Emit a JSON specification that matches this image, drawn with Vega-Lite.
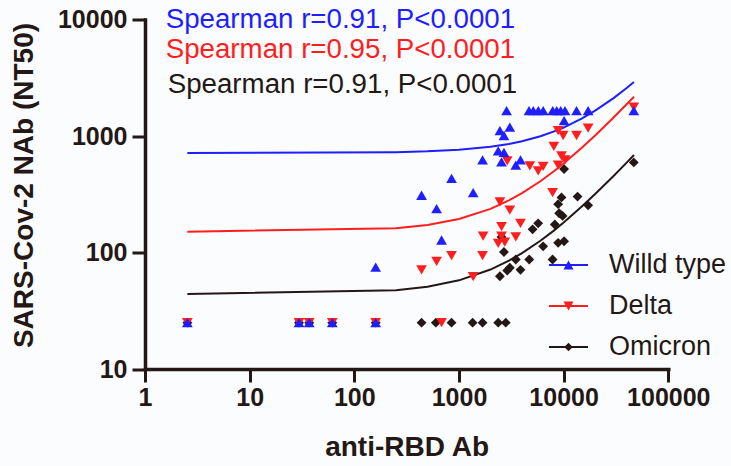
{
  "$schema": "https://vega.github.io/schema/vega-lite/v6.json",
  "width": 523.3,
  "height": 349.5,
  "autosize": {"type": "none"},
  "padding": {"left": 145, "top": 19.5, "right": 62.7, "bottom": 97},
  "background": "#fbfcfe",
  "config": {
    "view": {"stroke": null},
    "font": "Liberation Sans",
    "axis": {
      "labelFont": "Liberation Sans",
      "labelFontWeight": "bold",
      "labelFontSize": 25,
      "labelColor": "#231815",
      "domainColor": "#231815",
      "domainWidth": 3.5,
      "domainCap": "square",
      "tickColor": "#231815",
      "tickWidth": 3,
      "tickSize": 13,
      "grid": false,
      "labelOverlap": false,
      "labelFlush": false,
      "labelBound": false,
      "titleFont": "Liberation Sans",
      "titleFontWeight": "bold",
      "titleFontSize": 28,
      "titleColor": "#231815"
    }
  },
  "datasets": {
    "points": [
      {"group": "Omicron", "rbd": 2.54, "nab": 25},
      {"group": "Omicron", "rbd": 29.6, "nab": 25},
      {"group": "Omicron", "rbd": 37.1, "nab": 25},
      {"group": "Omicron", "rbd": 61.6, "nab": 25},
      {"group": "Omicron", "rbd": 160, "nab": 25},
      {"group": "Omicron", "rbd": 439, "nab": 25},
      {"group": "Omicron", "rbd": 601, "nab": 25},
      {"group": "Omicron", "rbd": 849, "nab": 25},
      {"group": "Omicron", "rbd": 1350, "nab": 25},
      {"group": "Omicron", "rbd": 1680, "nab": 25},
      {"group": "Omicron", "rbd": 2370, "nab": 25},
      {"group": "Omicron", "rbd": 2800, "nab": 25},
      {"group": "Omicron", "rbd": 2460, "nab": 62.5},
      {"group": "Omicron", "rbd": 2890, "nab": 70},
      {"group": "Omicron", "rbd": 3060, "nab": 74},
      {"group": "Omicron", "rbd": 3870, "nab": 71},
      {"group": "Omicron", "rbd": 2690, "nab": 101},
      {"group": "Omicron", "rbd": 3490, "nab": 87},
      {"group": "Omicron", "rbd": 4690, "nab": 87},
      {"group": "Omicron", "rbd": 7840, "nab": 87},
      {"group": "Omicron", "rbd": 6370, "nab": 113},
      {"group": "Omicron", "rbd": 8860, "nab": 121},
      {"group": "Omicron", "rbd": 10100, "nab": 125},
      {"group": "Omicron", "rbd": 2550, "nab": 136},
      {"group": "Omicron", "rbd": 5050, "nab": 158},
      {"group": "Omicron", "rbd": 5710, "nab": 178},
      {"group": "Omicron", "rbd": 8240, "nab": 174},
      {"group": "Omicron", "rbd": 9060, "nab": 217},
      {"group": "Omicron", "rbd": 9770, "nab": 206},
      {"group": "Omicron", "rbd": 8860, "nab": 260},
      {"group": "Omicron", "rbd": 9540, "nab": 297},
      {"group": "Omicron", "rbd": 13580, "nab": 302},
      {"group": "Omicron", "rbd": 17140, "nab": 254},
      {"group": "Omicron", "rbd": 10100, "nab": 520},
      {"group": "Omicron", "rbd": 46800, "nab": 593},
      {"group": "Delta", "rbd": 2.54, "nab": 25},
      {"group": "Delta", "rbd": 29.6, "nab": 25},
      {"group": "Delta", "rbd": 37.1, "nab": 25},
      {"group": "Delta", "rbd": 61.6, "nab": 25},
      {"group": "Delta", "rbd": 160, "nab": 25},
      {"group": "Delta", "rbd": 682, "nab": 25},
      {"group": "Delta", "rbd": 439, "nab": 71},
      {"group": "Delta", "rbd": 611, "nab": 84},
      {"group": "Delta", "rbd": 849, "nab": 94},
      {"group": "Delta", "rbd": 1367, "nab": 62},
      {"group": "Delta", "rbd": 1680, "nab": 94},
      {"group": "Delta", "rbd": 1700, "nab": 138},
      {"group": "Delta", "rbd": 2370, "nab": 120},
      {"group": "Delta", "rbd": 2740, "nab": 123},
      {"group": "Delta", "rbd": 2550, "nab": 138},
      {"group": "Delta", "rbd": 2550, "nab": 167},
      {"group": "Delta", "rbd": 3490, "nab": 136},
      {"group": "Delta", "rbd": 3870, "nab": 178},
      {"group": "Delta", "rbd": 3060, "nab": 231},
      {"group": "Delta", "rbd": 2460, "nab": 272},
      {"group": "Delta", "rbd": 7840, "nab": 327},
      {"group": "Delta", "rbd": 2890, "nab": 612},
      {"group": "Delta", "rbd": 4750, "nab": 555},
      {"group": "Delta", "rbd": 5710, "nab": 502},
      {"group": "Delta", "rbd": 6370, "nab": 548},
      {"group": "Delta", "rbd": 8860, "nab": 562},
      {"group": "Delta", "rbd": 10300, "nab": 625},
      {"group": "Delta", "rbd": 9540, "nab": 676},
      {"group": "Delta", "rbd": 8060, "nab": 815},
      {"group": "Delta", "rbd": 8860, "nab": 1110},
      {"group": "Delta", "rbd": 9890, "nab": 1010},
      {"group": "Delta", "rbd": 13280, "nab": 1010},
      {"group": "Delta", "rbd": 17140, "nab": 1170},
      {"group": "Delta", "rbd": 46800, "nab": 1770},
      {"group": "Willd type", "rbd": 2.54, "nab": 25},
      {"group": "Willd type", "rbd": 29.6, "nab": 25},
      {"group": "Willd type", "rbd": 37.1, "nab": 25},
      {"group": "Willd type", "rbd": 61.6, "nab": 25},
      {"group": "Willd type", "rbd": 160, "nab": 25},
      {"group": "Willd type", "rbd": 160, "nab": 75},
      {"group": "Willd type", "rbd": 439, "nab": 310},
      {"group": "Willd type", "rbd": 611, "nab": 238},
      {"group": "Willd type", "rbd": 682, "nab": 128},
      {"group": "Willd type", "rbd": 849, "nab": 432},
      {"group": "Willd type", "rbd": 1367, "nab": 327},
      {"group": "Willd type", "rbd": 1680, "nab": 625},
      {"group": "Willd type", "rbd": 2370, "nab": 746},
      {"group": "Willd type", "rbd": 2690, "nab": 724},
      {"group": "Willd type", "rbd": 2550, "nab": 600},
      {"group": "Willd type", "rbd": 3490, "nab": 562},
      {"group": "Willd type", "rbd": 3870, "nab": 625},
      {"group": "Willd type", "rbd": 2460, "nab": 1110},
      {"group": "Willd type", "rbd": 3060, "nab": 1190},
      {"group": "Willd type", "rbd": 2690, "nab": 1010},
      {"group": "Willd type", "rbd": 10100, "nab": 1355},
      {"group": "Willd type", "rbd": 2850, "nab": 1650},
      {"group": "Willd type", "rbd": 4670, "nab": 1650},
      {"group": "Willd type", "rbd": 5130, "nab": 1650},
      {"group": "Willd type", "rbd": 5730, "nab": 1650},
      {"group": "Willd type", "rbd": 6380, "nab": 1650},
      {"group": "Willd type", "rbd": 7860, "nab": 1650},
      {"group": "Willd type", "rbd": 8590, "nab": 1650},
      {"group": "Willd type", "rbd": 9370, "nab": 1650},
      {"group": "Willd type", "rbd": 10300, "nab": 1650},
      {"group": "Willd type", "rbd": 13280, "nab": 1650},
      {"group": "Willd type", "rbd": 17140, "nab": 1650},
      {"group": "Willd type", "rbd": 46800, "nab": 1650}
    ],
    "curves": [
      {"group": "Willd type", "rbd": 2.54, "fit": 715},
      {"group": "Willd type", "rbd": 250, "fit": 727},
      {"group": "Willd type", "rbd": 500, "fit": 738},
      {"group": "Willd type", "rbd": 1000, "fit": 762},
      {"group": "Willd type", "rbd": 2000, "fit": 808},
      {"group": "Willd type", "rbd": 3000, "fit": 855},
      {"group": "Willd type", "rbd": 4000, "fit": 902},
      {"group": "Willd type", "rbd": 6000, "fit": 995},
      {"group": "Willd type", "rbd": 8000, "fit": 1089},
      {"group": "Willd type", "rbd": 10000, "fit": 1182},
      {"group": "Willd type", "rbd": 15000, "fit": 1416},
      {"group": "Willd type", "rbd": 20000, "fit": 1649},
      {"group": "Willd type", "rbd": 30000, "fit": 2116},
      {"group": "Willd type", "rbd": 40000, "fit": 2583},
      {"group": "Willd type", "rbd": 47000, "fit": 2910},
      {"group": "Delta", "rbd": 2.54, "fit": 151},
      {"group": "Delta", "rbd": 250, "fit": 161.8},
      {"group": "Delta", "rbd": 500, "fit": 172.5},
      {"group": "Delta", "rbd": 1000, "fit": 194},
      {"group": "Delta", "rbd": 2000, "fit": 237},
      {"group": "Delta", "rbd": 3000, "fit": 280},
      {"group": "Delta", "rbd": 4000, "fit": 323},
      {"group": "Delta", "rbd": 6000, "fit": 409},
      {"group": "Delta", "rbd": 8000, "fit": 495},
      {"group": "Delta", "rbd": 10000, "fit": 581},
      {"group": "Delta", "rbd": 15000, "fit": 796},
      {"group": "Delta", "rbd": 20000, "fit": 1011},
      {"group": "Delta", "rbd": 30000, "fit": 1441},
      {"group": "Delta", "rbd": 40000, "fit": 1871},
      {"group": "Delta", "rbd": 47000, "fit": 2172},
      {"group": "Omicron", "rbd": 2.54, "fit": 44},
      {"group": "Omicron", "rbd": 250, "fit": 47.4},
      {"group": "Omicron", "rbd": 500, "fit": 50.8},
      {"group": "Omicron", "rbd": 1000, "fit": 57.7},
      {"group": "Omicron", "rbd": 2000, "fit": 71.4},
      {"group": "Omicron", "rbd": 3000, "fit": 85},
      {"group": "Omicron", "rbd": 4000, "fit": 98.7},
      {"group": "Omicron", "rbd": 6000, "fit": 126},
      {"group": "Omicron", "rbd": 8000, "fit": 153.4},
      {"group": "Omicron", "rbd": 10000, "fit": 180.8},
      {"group": "Omicron", "rbd": 15000, "fit": 249},
      {"group": "Omicron", "rbd": 20000, "fit": 318},
      {"group": "Omicron", "rbd": 30000, "fit": 454},
      {"group": "Omicron", "rbd": 40000, "fit": 591},
      {"group": "Omicron", "rbd": 47000, "fit": 687}
    ]
  },
  "layer": [
    {
      "data": {"name": "curves"},
      "mark": {"type": "point", "filled": true, "opacity": 0, "size": 100},
      "encoding": {
        "x": {
          "field": "rbd", "type": "quantitative",
          "scale": {"type": "log", "domain": [1, 100000], "nice": false},
          "axis": {
            "values": [1, 10, 100, 1000, 10000, 100000],
            "format": "d",
            "labelPadding": 3,
            "title": "anti-RBD Ab",
            "titleX": 261.6, "titleY": 86,
            "titleBaseline": "alphabetic", "titleAlign": "center"
          }
        },
        "y": {
          "field": "fit", "type": "quantitative",
          "scale": {"type": "log", "domain": [10, 10000], "nice": false},
          "axis": {
            "values": [10, 100, 1000, 10000],
            "format": "d",
            "labelPadding": 5,
            "title": "SARS-Cov-2 NAb (NT50)",
            "titleAngle": 270,
            "titleX": -113, "titleY": 165.5,
            "titleBaseline": "alphabetic", "titleAlign": "center"
          }
        },
        "color": {
          "field": "group", "type": "nominal",
          "scale": {"domain": ["Willd type", "Delta", "Omicron"], "range": ["#1e1eff", "#ff1e1e", "#231815"]},
          "legend": {
            "title": null,
            "orient": "none",
            "legendX": 410,
            "legendY": 232,
            "padding": 0,
            "labelFont": "Liberation Sans",
            "labelFontSize": 27,
            "labelColor": "#231815",
            "labelOffset": 27,
            "symbolSize": 100,
            "symbolStrokeWidth": 0,
            "symbolOpacity": 1,
            "rowPadding": 13
          }
        },
        "shape": {
          "field": "group", "type": "nominal",
          "scale": {
            "domain": ["Willd type", "Delta", "Omicron"],
            "range": [
              "M-3.9,-0.2H3.9V0.2H-3.9ZM-1,0.88L0,-0.88L1,0.88Z",
              "M-3.9,-0.2H3.9V0.2H-3.9ZM-1,-0.88L1,-0.88L0,0.88Z",
              "M-3.9,-0.2H3.9V0.2H-3.9ZM0,-0.85L0.85,0L0,0.85L-0.85,0Z"
            ]
          },
          "legend": {
            "title": null,
            "orient": "none",
            "legendX": 410,
            "legendY": 232,
            "padding": 0,
            "labelFont": "Liberation Sans",
            "labelFontSize": 27,
            "labelColor": "#231815",
            "labelOffset": 27,
            "symbolSize": 100,
            "symbolStrokeWidth": 0,
            "symbolOpacity": 1,
            "rowPadding": 13
          }
        }
      }
    },
    {
      "data": {"name": "curves"},
      "mark": {"type": "line", "strokeWidth": 2},
      "encoding": {
        "x": {"field": "rbd", "type": "quantitative"},
        "y": {"field": "fit", "type": "quantitative"},
        "color": {"field": "group", "type": "nominal", "legend": null},
        "detail": {"field": "group"}
      }
    },
    {
      "data": {"name": "points"},
      "transform": [{"filter": "datum.group === 'Omicron'"}],
      "mark": {"type": "point", "filled": true, "opacity": 1, "size": 115, "shape": "M0,-0.92L0.92,0L0,0.92L-0.92,0Z", "color": "#231815"},
      "encoding": {
        "x": {"field": "rbd", "type": "quantitative"},
        "y": {"field": "nab", "type": "quantitative"}
      }
    },
    {
      "data": {"name": "points"},
      "transform": [{"filter": "datum.group === 'Delta'"}],
      "mark": {"type": "point", "filled": true, "opacity": 1, "size": 115, "shape": "triangle-down", "color": "#ff1e1e"},
      "encoding": {
        "x": {"field": "rbd", "type": "quantitative"},
        "y": {"field": "nab", "type": "quantitative"}
      }
    },
    {
      "data": {"name": "points"},
      "transform": [{"filter": "datum.group === 'Willd type'"}],
      "mark": {"type": "point", "filled": true, "opacity": 1, "size": 115, "shape": "triangle-up", "color": "#1e1eff"},
      "encoding": {
        "x": {"field": "rbd", "type": "quantitative"},
        "y": {"field": "nab", "type": "quantitative"}
      }
    },
    {
      "data": {"values": [{"label": "Spearman r=0.91, P<0.0001"}]},
      "mark": {"type": "text", "font": "Liberation Sans", "fontSize": 27.7, "align": "left", "baseline": "alphabetic", "color": "#1e1eff"},
      "encoding": {
        "x": {"datum": 1.577, "type": "quantitative"},
        "y": {"datum": 8400, "type": "quantitative"},
        "text": {"field": "label"}
      }
    },
    {
      "data": {"values": [{"label": "Spearman r=0.95, P<0.0001"}]},
      "mark": {"type": "text", "font": "Liberation Sans", "fontSize": 27.7, "align": "left", "baseline": "alphabetic", "color": "#ff1e1e"},
      "encoding": {
        "x": {"datum": 1.577, "type": "quantitative"},
        "y": {"datum": 4645, "type": "quantitative"},
        "text": {"field": "label"}
      }
    },
    {
      "data": {"values": [{"label": "Spearman r=0.91, P<0.0001"}]},
      "mark": {"type": "text", "font": "Liberation Sans", "fontSize": 27.7, "align": "left", "baseline": "alphabetic", "color": "#231815"},
      "encoding": {
        "x": {"datum": 1.648, "type": "quantitative"},
        "y": {"datum": 2327, "type": "quantitative"},
        "text": {"field": "label"}
      }
    }
  ]
}
